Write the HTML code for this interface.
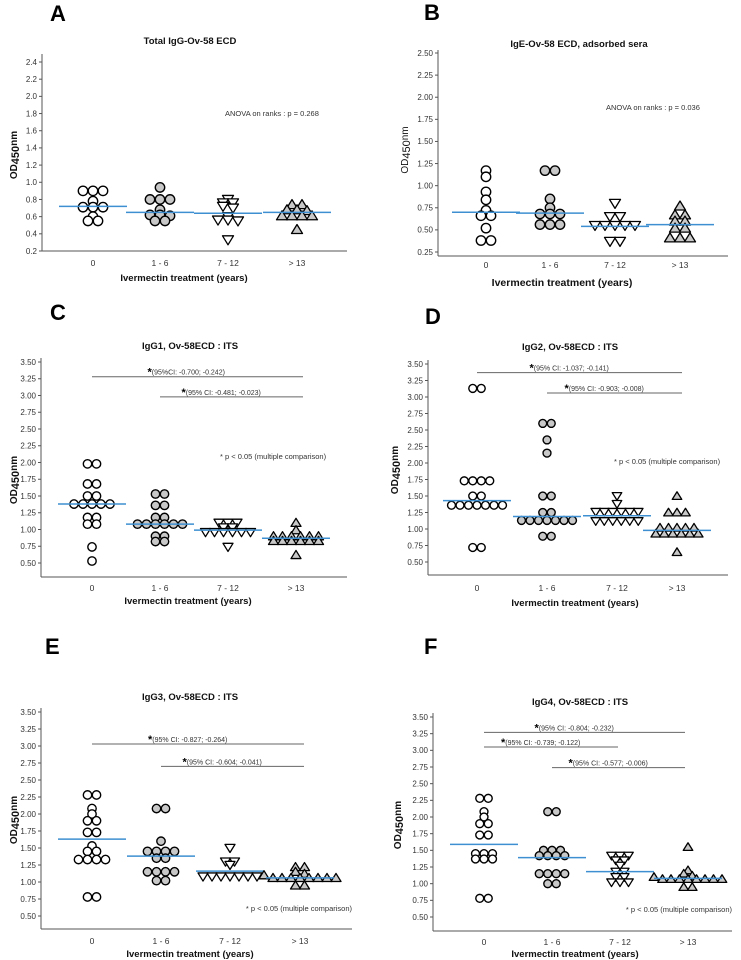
<!DOCTYPE html>
<html><head><meta charset="utf-8">
<style>
html,body{margin:0;padding:0;background:#fff;}
svg{display:block;font-family:"Liberation Sans",Arial,sans-serif;}
</style></head>
<body>
<svg id="fig" width="741" height="960" viewBox="0 0 741 960" xmlns="http://www.w3.org/2000/svg"></svg>
<script>
// ---- shared data ----
const categories = ["0", "1 - 6", "7 - 12", "> 13"];
const ticksA = [0.2,0.4,0.6,0.8,1.0,1.2,1.4,1.6,1.8,2.0,2.2,2.4];
const ticksB = [0.25,0.5,0.75,1.0,1.25,1.5,1.75,2.0,2.25,2.5];
const ticksCF = [0.5,0.75,1.0,1.25,1.5,1.75,2.0,2.25,2.5,2.75,3.0,3.25,3.5];

// Panel A
const valuesA = [
  [0.9,0.9,0.9,0.78,0.71,0.71,0.71,0.6,0.55,0.55],
  [0.94,0.8,0.8,0.8,0.68,0.62,0.62,0.61,0.55,0.55],
  [0.8,0.76,0.76,0.72,0.7,0.6,0.56,0.56,0.55,0.33],
  [0.74,0.74,0.68,0.68,0.67,0.61,0.61,0.61,0.61,0.45]
];
const meansA = [0.72,0.65,0.64,0.65];
// Panel B
const valuesB = [
  [1.17,1.1,0.93,0.84,0.72,0.66,0.66,0.52,0.38,0.38],
  [1.17,1.17,0.85,0.75,0.68,0.68,0.68,0.56,0.56,0.56],
  [0.8,0.65,0.65,0.55,0.55,0.55,0.55,0.55,0.37,0.37],
  [0.77,0.67,0.67,0.6,0.6,0.52,0.52,0.41,0.41,0.41]
];
const meansB = [0.7,0.69,0.54,0.56];
// Panel C
const valuesC = [
  [1.98,1.98,1.68,1.68,1.5,1.5,1.38,1.38,1.38,1.38,1.38,1.18,1.18,1.08,1.08,0.74,0.53],
  [1.53,1.53,1.36,1.36,1.18,1.18,1.08,1.08,1.08,1.08,1.08,1.08,0.9,0.9,0.82,0.82],
  [1.1,1.1,1.1,1.03,1.03,0.96,0.96,0.96,0.96,0.96,0.96,0.74],
  [1.1,0.99,0.9,0.9,0.9,0.9,0.9,0.9,0.83,0.83,0.83,0.83,0.83,0.83,0.62]
];
const meansC = [1.38,1.08,0.99,0.87];
// Panel D
const valuesD = [
  [3.13,3.13,1.73,1.73,1.73,1.73,1.5,1.5,1.36,1.36,1.36,1.36,1.36,1.36,1.36,0.72,0.72],
  [2.6,2.6,2.35,2.15,1.5,1.5,1.25,1.25,1.13,1.13,1.13,1.13,1.13,1.13,1.13,0.89,0.89],
  [1.5,1.38,1.26,1.26,1.26,1.26,1.26,1.26,1.12,1.12,1.12,1.12,1.12,1.12],
  [1.5,1.25,1.25,1.25,1.02,1.02,1.02,1.02,1.02,0.93,0.93,0.93,0.93,0.93,0.93,0.65]
];
const meansD = [1.43,1.19,1.2,0.98];
// Panel E
const valuesE = [
  [2.28,2.28,2.08,2.0,1.9,1.9,1.73,1.73,1.53,1.45,1.45,1.33,1.33,1.33,1.33,0.78,0.78],
  [2.08,2.08,1.6,1.45,1.45,1.45,1.45,1.35,1.35,1.15,1.15,1.15,1.15,1.02,1.02],
  [1.5,1.3,1.3,1.25,1.08,1.08,1.08,1.08,1.08,1.08,1.08],
  [1.22,1.22,1.15,1.12,1.1,1.06,1.06,1.06,1.06,1.06,1.06,1.06,1.06,0.95,0.95]
];
const meansE = [1.63,1.38,1.16,1.06];
// Panel F
const valuesF = [
  [2.28,2.28,2.08,2.0,1.9,1.9,1.73,1.73,1.45,1.45,1.45,1.37,1.37,1.37,0.78,0.78],
  [2.08,2.08,1.5,1.5,1.5,1.42,1.42,1.42,1.42,1.15,1.15,1.15,1.15,1.0,1.0],
  [1.42,1.42,1.42,1.35,1.35,1.27,1.18,1.18,1.1,1.1,1.02,1.02,1.02],
  [1.55,1.2,1.15,1.12,1.1,1.07,1.07,1.07,1.07,1.07,1.07,1.07,1.07,0.95,0.95]
];
const meansF = [1.59,1.39,1.18,1.08];

// significance bars: [fromCat, toCat, value, label]
const sigC = [[0,3,3.28,"(95%CI: -0.700; -0.242)"],[1,3,2.98,"(95% CI: -0.481; -0.023)"]];
const sigD = [[0,3,3.37,"(95% CI: -1.037; -0.141)"],[1,3,3.06,"(95% CI: -0.903; -0.008)"]];
const sigE = [[0,3,3.03,"(95% CI: -0.827; -0.264)"],[1,3,2.70,"(95% CI: -0.604; -0.041)"]];
const sigF = [[0,3,3.27,"(95% CI: -0.804; -0.232)"],[0,2,3.05,"(95% CI: -0.739; -0.122)"],[1,3,2.74,"(95% CI: -0.577; -0.006)"]];

const NS = "http://www.w3.org/2000/svg";
const svg = document.getElementById("fig");
function mk(tag, attrs, parent, text) {
  const e = document.createElementNS(NS, tag);
  for (const k in attrs) e.setAttribute(k, attrs[k]);
  if (text !== undefined) e.textContent = text;
  (parent || svg).appendChild(e);
  return e;
}

const panels = [
  {id:"a", letter:"A", lx:50, ly:21, title:"Total IgG-Ov-58 ECD", tx:190, ty:44,
   ax:42, ar:347, vTop:2.4, yTop:62, vBot:0.2, yBot:251, axB:251, axT:54, cats:[93,160,228,297],
   ticks:ticksA, dec:1, values:valuesA, means:meansA, d:10, tickY:266, xl:184, xlY:281, ytX:14, ytY:155, ytBold:true,
   note:"ANOVA on ranks : p = 0.268", nx:225, ny:116, nAnchor:"start", sig:[]},
  {id:"b", letter:"B", lx:424, ly:20, title:"IgE-Ov-58 ECD, adsorbed sera", tx:579, ty:47,
   ax:438, ar:728, vTop:2.5, yTop:53, vBot:0.25, yBot:252, axB:256, axT:50, cats:[486,550,615,680],
   ticks:ticksB, dec:2, values:valuesB, means:meansB, d:10, tickY:268, xl:562, xlY:286, ytX:405, ytY:150, ytBold:false, xlBig:true,
   note:"ANOVA on ranks : p = 0.036", nx:606, ny:110, nAnchor:"start", sig:[]},
  {id:"c", letter:"C", lx:50, ly:320, title:"IgG1, Ov-58ECD : ITS", tx:190, ty:349,
   ax:41, ar:347, vTop:3.5, yTop:362, vBot:0.5, yBot:563, axB:577, axT:358, cats:[92,160,228,296],
   ticks:ticksCF, dec:2, values:valuesC, means:meansC, d:9, tickY:591, xl:188, xlY:604, ytX:14, ytY:480, ytBold:true,
   note:"* p < 0.05 (multiple comparison)", nx:220, ny:459, nAnchor:"start", sig:sigC, sigEnd:303},
  {id:"d", letter:"D", lx:425, ly:324, title:"IgG2, Ov-58ECD : ITS", tx:570, ty:350,
   ax:428, ar:728, vTop:3.5, yTop:364, vBot:0.5, yBot:562, axB:575, axT:360, cats:[477,547,617,677],
   ticks:ticksCF, dec:2, values:valuesD, means:meansD, d:8.5, tickY:591, xl:575, xlY:606, ytX:395, ytY:470, ytBold:true,
   note:"* p < 0.05 (multiple comparison)", nx:614, ny:464, nAnchor:"start", sig:sigD, sigEnd:682},
  {id:"e", letter:"E", lx:45, ly:654, title:"IgG3, Ov-58ECD : ITS", tx:190, ty:700,
   ax:41, ar:352, vTop:3.5, yTop:712, vBot:0.5, yBot:916, axB:929, axT:708, cats:[92,161,230,300],
   ticks:ticksCF, dec:2, values:valuesE, means:meansE, d:9, tickY:944, xl:190, xlY:957, ytX:14, ytY:820, ytBold:true,
   note:"* p < 0.05 (multiple comparison)", nx:352, ny:911, nAnchor:"end", sig:sigE, sigEnd:304},
  {id:"f", letter:"F", lx:424, ly:654, title:"IgG4, Ov-58ECD : ITS", tx:580, ty:705,
   ax:433, ar:732, vTop:3.5, yTop:717, vBot:0.5, yBot:917, axB:931, axT:713, cats:[484,552,620,688],
   ticks:ticksCF, dec:2, values:valuesF, means:meansF, d:8.5, tickY:945, xl:575, xlY:957, ytX:398, ytY:825, ytBold:true,
   note:"* p < 0.05 (multiple comparison)", nx:732, ny:912, nAnchor:"end", sig:sigF, sigEnd:685}
];

const fills = ["#ffffff","#c8c8c8","#ffffff","#c8c8c8"];
const shapes = ["circle","circle","down","up"];

panels.forEach(p => {
  const g = mk("g", {});
  
  
  const yS = v => p.yBot + (v - p.vBot) * (p.yTop - p.yBot) / (p.vTop - p.vBot);

  const L = mk("text", {x:p.lx, y:p.ly, "font-size":22, "font-weight":"bold", fill:"#000"}, g, p.letter);
  
  
  const T = mk("text", {x:p.tx, y:p.ty, "font-size":9.5, "font-weight":"bold", "text-anchor":"middle", fill:"#111"}, g, p.title);
  
  

  const ya = mk("line", {x1:p.ax, x2:p.ax, y1:p.axT, y2:p.axB, stroke:"#555", "stroke-width":1}, g);
  
  
  const xa = mk("line", {x1:p.ax, x2:p.ar, y1:p.axB, y2:p.axB, stroke:"#555", "stroke-width":1}, g);
  
  

  p.ticks.forEach(t => {
    const y = yS(t);
    const tk = mk("line", {x1:p.ax-3, x2:p.ax, y1:y, y2:y, stroke:"#555", "stroke-width":1}, g);
    
    
    const tl = mk("text", {x:p.ax-5, y:y+2.8, "font-size":8, "text-anchor":"end", fill:"#333"}, g, t.toFixed(p.dec));
    
    
  });
  categories.forEach((c, i) => {
    const cl = mk("text", {x:p.cats[i], y:p.tickY, "font-size":8.5, "text-anchor":"middle", fill:"#333"}, g, c);
    
    
  });
  const xt = mk("text", {x:p.xl, y:p.xlY, "font-size":p.xlBig ? 10.5 : 9.5, "font-weight":"bold", "text-anchor":"middle", fill:"#111"}, g, "Ivermectin treatment (years)");
  
  
  const yt = mk("text", {x:p.ytX, y:p.ytY, transform:`rotate(-90 ${p.ytX} ${p.ytY})`, "font-size":10, "font-weight":p.ytBold?"bold":"normal", "text-anchor":"middle", fill:"#111", "dominant-baseline":"middle"}, g);
  
  
  mk("tspan", {}, yt, "OD");
  mk("tspan", {"font-size":11, dy:2}, yt, "450");
  mk("tspan", {dy:-2}, yt, "nm");

  const nt = mk("text", {x:p.nx, y:p.ny, "font-size":7.5, "text-anchor":p.nAnchor, fill:"#333"}, g, p.note);
  
  

  p.sig.forEach(s => {
    const y = yS(s[2]);
    const x1 = p.cats[s[0]];
    const x2 = s[1] === 3 ? p.sigEnd : p.cats[s[1]] - 2;
    const sl = mk("line", {x1:x1, x2:x2, y1:y, y2:y, stroke:"#666", "stroke-width":1}, g);
    
    
    const sx = (x1 + x2) / 2 - 50;
    const st = mk("text", {x:sx, y:y-2, "font-size":7, fill:"#333"}, g);
    
    
    mk("tspan", {"font-size":11, "font-weight":"bold", fill:"#000", dy:1}, st, "*");
    mk("tspan", {dy:-1}, st, s[3]);
  });

  p.values.forEach((vals, gi) => {
    const cx = p.cats[gi];
    const sorted = vals.slice().sort((a, b) => b - a);
    const rows = [];
    sorted.forEach(v => {
      const y = yS(v);
      const last = rows[rows.length - 1];
      if (last && Math.abs(last.y0 - y) < 3) last.ys.push(y);
      else rows.push({y0:y, ys:[y]});
    });
    const d = p.d;
    rows.forEach(r => {
      const n = r.ys.length;
      r.ys.forEach((y, k) => {
        const x = cx + (k - (n - 1) / 2) * d;
        let el;
        const h = d * 0.5;
        if (shapes[gi] === "circle") {
          el = mk("circle", {cx:x, cy:y, r:h - 0.3, fill:fills[gi], stroke:"#000", "stroke-width":1.4}, g);
        } else if (shapes[gi] === "down") {
          el = mk("polygon", {points:`${x-h-0.5},${y-h*0.8} ${x+h+0.5},${y-h*0.8} ${x},${y+h}`, fill:fills[gi], stroke:"#000", "stroke-width":1.3, "stroke-linejoin":"round"}, g);
        } else {
          el = mk("polygon", {points:`${x-h-0.5},${y+h*0.8} ${x+h+0.5},${y+h*0.8} ${x},${y-h}`, fill:fills[gi], stroke:"#000", "stroke-width":1.3, "stroke-linejoin":"round"}, g);
        }
        
        
      });
    });
    const my = yS(p.means[gi]);
    const ml = mk("line", {x1:cx-34, x2:cx+34, y1:my, y2:my, stroke:"#3d8fd1", "stroke-width":1.5}, g);
    
    
  });
});
</script>
</body></html>
